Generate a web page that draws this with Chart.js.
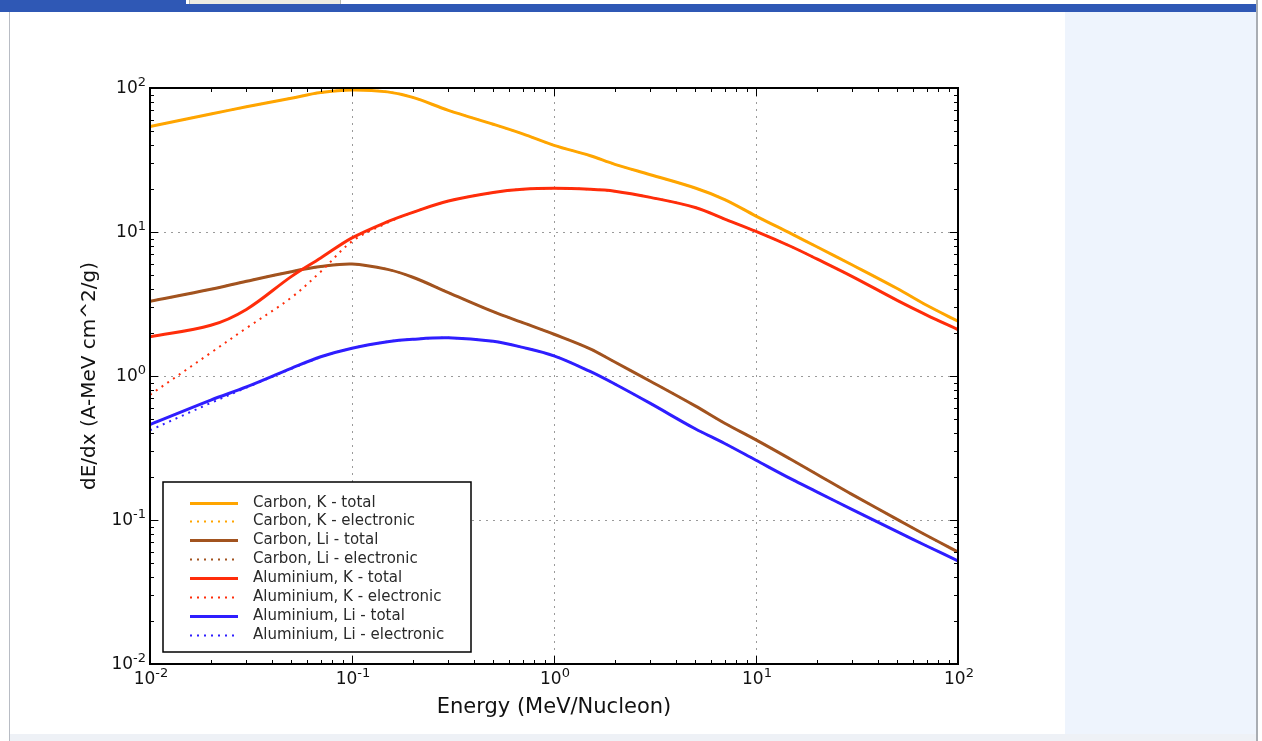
<!DOCTYPE html>
<html>
<head>
<meta charset="utf-8">
<script src="https://cdn.jsdelivr.net/npm/chart.js@4.4.1/dist/chart.umd.min.js"></script>
<style>
  body { margin: 0; background: #fff; width: 1262px; height: 741px; overflow: hidden; position: relative; font-family: "DejaVu Sans", sans-serif; }
  #tab1 { position: absolute; left: 0; top: 0; width: 186px; height: 5px; background: #2f58b5; }
  #tab2 { position: absolute; left: 189px; top: 0; width: 150px; height: 4px; background: #ecebe3; border: 1px solid #b9b9b0; border-top: none; }
  #bar { position: absolute; left: 0; top: 4px; width: 1258px; height: 8px; background: #2f58b5; }
  #leftline { position: absolute; left: 9px; top: 12px; width: 1px; height: 729px; background: #b8bcc4; }
  #rightpanel { position: absolute; left: 1065px; top: 12px; width: 191px; height: 729px; background: #eef4fd; }
  #rightline { position: absolute; left: 1256px; top: 0; width: 2px; height: 741px; background: #a9adb3; }
  #bottom { position: absolute; left: 10px; top: 734px; width: 1246px; height: 7px; background: #eef1f6; }
  #wrap { position: absolute; left: 0; top: 0; width: 1262px; height: 741px; }
</style>
</head>
<body>
<div id="tab1"></div><div id="tab2"></div><div id="bar"></div>
<div id="leftline"></div><div id="rightpanel"></div><div id="rightline"></div><div id="bottom"></div>
<div id="wrap"><canvas id="stoppingChart"></canvas></div>
<script>
// energia (MeV/Nucleon)
const energy = [0.01, 0.02, 0.03, 0.05, 0.07, 0.1, 0.15, 0.2, 0.3, 0.5, 0.7, 1, 1.5, 2, 3, 5, 7, 10, 15, 20, 30, 50, 70, 100];

// dE/dx
const carbonKTotal = [54, 66, 74, 85, 93, 97, 94, 86, 70, 56, 48, 40, 34, 29.5, 25, 20.2, 16.8, 12.9, 9.7, 7.9, 5.9, 4.05, 3.1, 2.4];
const carbonKElec  = [54, 66, 74, 85, 93, 97, 94, 86, 70, 56, 48, 40, 34, 29.5, 25, 20.2, 16.8, 12.9, 9.7, 7.9, 5.9, 4.05, 3.1, 2.4];
const carbonLiTotal = [3.3, 4.0, 4.55, 5.3, 5.75, 6.0, 5.5, 4.85, 3.8, 2.8, 2.35, 1.95, 1.55, 1.25, 0.92, 0.62, 0.47, 0.36, 0.262, 0.208, 0.15, 0.101, 0.078, 0.06];
const carbonLiElec  = [3.3, 4.0, 4.55, 5.3, 5.75, 6.0, 5.5, 4.85, 3.8, 2.8, 2.35, 1.95, 1.55, 1.25, 0.92, 0.62, 0.47, 0.36, 0.262, 0.208, 0.15, 0.101, 0.078, 0.06];
const alKTotal = [1.87, 2.25, 2.9, 4.9, 6.6, 9.1, 11.8, 13.7, 16.4, 18.8, 19.8, 20.1, 19.8, 19.2, 17.4, 14.8, 12.3, 10.1, 7.9, 6.5, 4.9, 3.35, 2.65, 2.1];
const alKElec  = [0.74, 1.45, 2.15, 3.5, 5.3, 8.6, 11.6, 13.7, 16.4, 18.8, 19.8, 20.1, 19.8, 19.2, 17.4, 14.8, 12.3, 10.1, 7.9, 6.5, 4.9, 3.35, 2.65, 2.1];
const alLiTotal = [0.46, 0.68, 0.84, 1.13, 1.36, 1.56, 1.73, 1.80, 1.84, 1.74, 1.58, 1.38, 1.08, 0.88, 0.645, 0.43, 0.34, 0.26, 0.192, 0.157, 0.118, 0.083, 0.066, 0.052];
const alLiElec  = [0.42, 0.65, 0.83, 1.12, 1.35, 1.56, 1.73, 1.80, 1.84, 1.74, 1.58, 1.38, 1.08, 0.88, 0.645, 0.43, 0.34, 0.26, 0.192, 0.157, 0.118, 0.083, 0.066, 0.052];

const tickValues = [0.01, 0.1, 1, 10, 100];
const tickBase = '10';
const tickExponents = ['-2', '-1', '0', '1', '2'];

const orange = '#ffa500';
const brown = '#a2531f';
const red = '#ff2d0a';
const blue = '#2f1eff';

function pts(vals) {
    return energy.map((e, i) => ({ x: e, y: vals[i] }));
}

function total(label, vals, color) {
    return { label: label, data: pts(vals), borderColor: color, borderWidth: 3, pointRadius: 0, tension: 0.35, fill: false };
}
function electronic(label, vals, color) {
    return { label: label, data: pts(vals), borderColor: color, borderWidth: 2, borderDash: [2, 5], pointRadius: 0, tension: 0.35, fill: false };
}

const datasets = [
    total('Carbon, K - total', carbonKTotal, orange),
    electronic('Carbon, K - electronic', carbonKElec, orange),
    total('Carbon, Li - total', carbonLiTotal, brown),
    electronic('Carbon, Li - electronic', carbonLiElec, brown),
    total('Aluminium, K - total', alKTotal, red),
    electronic('Aluminium, K - electronic', alKElec, red),
    total('Aluminium, Li - total', alLiTotal, blue),
    electronic('Aluminium, Li - electronic', alLiElec, blue)
];
// las ultimas series van encima, como en matplotlib
datasets.forEach((d, i) => { d.order = datasets.length - i; });

// etiqueta 10^n con exponente elevado
function drawPowerLabel(ctx, exp, x, y, align) {
    ctx.font = '17px "DejaVu Sans"';
    const wb = ctx.measureText(tickBase).width;
    ctx.font = '13px "DejaVu Sans"';
    const we = ctx.measureText(exp).width;
    const x0 = align === 'right' ? x - wb - we : x - (wb + we) / 2;
    ctx.font = '17px "DejaVu Sans"';
    ctx.fillText(tickBase, x0, y);
    ctx.font = '13px "DejaVu Sans"';
    ctx.fillText(exp, x0 + wb, y - 6);
}

// marco, rejilla punteada, ticks hacia dentro, etiquetas y leyenda
const framePlugin = {
    id: 'frame',
    beforeDatasetsDraw(chart) {
        const { ctx, chartArea: a, scales: { x, y } } = chart;
        ctx.save();
        ctx.strokeStyle = '#9a9a9a';
        ctx.lineWidth = 1;
        ctx.setLineDash([2, 5]);
        tickValues.slice(1, -1).forEach(v => {
            const px = Math.round(x.getPixelForValue(v)) + 0.5;
            ctx.beginPath(); ctx.moveTo(px, a.top); ctx.lineTo(px, a.bottom); ctx.stroke();
            const py = Math.round(y.getPixelForValue(v)) + 0.5;
            ctx.beginPath(); ctx.moveTo(a.left, py); ctx.lineTo(a.right, py); ctx.stroke();
        });
        ctx.restore();
    },
    afterDatasetsDraw(chart) {
        const { ctx, chartArea: a, scales: { x, y } } = chart;
        ctx.save();
        ctx.strokeStyle = '#000';
        ctx.lineWidth = 1;
        for (let d = 0; d < tickValues.length; d++) {
            for (let m = 1; m <= 9; m++) {
                const v = tickValues[d] * m;
                if (v > 100) break;
                const len = m === 1 ? 8 : 4;
                const px = Math.round(x.getPixelForValue(v)) + 0.5;
                ctx.beginPath();
                ctx.moveTo(px, a.bottom); ctx.lineTo(px, a.bottom - len);
                ctx.moveTo(px, a.top); ctx.lineTo(px, a.top + len);
                ctx.stroke();
                const py = Math.round(y.getPixelForValue(v)) + 0.5;
                ctx.beginPath();
                ctx.moveTo(a.left, py); ctx.lineTo(a.left + len, py);
                ctx.moveTo(a.right, py); ctx.lineTo(a.right - len, py);
                ctx.stroke();
            }
        }
        ctx.lineWidth = 2;
        ctx.strokeRect(a.left, a.top, a.right - a.left, a.bottom - a.top);

        ctx.fillStyle = '#111';
        ctx.textBaseline = 'middle';
        ctx.textAlign = 'left';
        tickValues.forEach((v, i) => {
            drawPowerLabel(ctx, tickExponents[i], x.getPixelForValue(v) + 1, a.bottom + 16, 'center');
            drawPowerLabel(ctx, tickExponents[i], a.left - 4, y.getPixelForValue(v) + 1, 'right');
        });
        ctx.restore();
    },
    afterDraw(chart) {
        const { ctx, chartArea: a } = chart;
        const bw = 308, bh = 170;
        const bx = a.left + 13, by = a.bottom - 12 - bh;
        ctx.save();
        ctx.fillStyle = '#fff';
        ctx.fillRect(bx, by, bw, bh);
        ctx.strokeStyle = '#000';
        ctx.lineWidth = 1.5;
        ctx.strokeRect(bx, by, bw, bh);
        ctx.font = '15px "DejaVu Sans"';
        ctx.textBaseline = 'middle';
        chart.data.datasets.forEach((ds, i) => {
            const cy = Math.round(by + 20.5 + i * 18.9) + 0.5;
            ctx.strokeStyle = ds.borderColor;
            ctx.lineWidth = ds.borderWidth;
            ctx.setLineDash(ds.borderDash || []);
            ctx.beginPath(); ctx.moveTo(bx + 27, cy); ctx.lineTo(bx + 75, cy); ctx.stroke();
            ctx.setLineDash([]);
            ctx.fillStyle = '#2a2a2a';
            ctx.fillText(ds.label, bx + 90, cy);
        });
        ctx.restore();
    }
};

const ctx = document.getElementById('stoppingChart').getContext('2d');
new Chart(ctx, {
    type: 'line',
    data: { datasets: datasets },
    options: {
        responsive: true,
        maintainAspectRatio: false,
        animation: false,
        layout: { padding: { left: 0, top: 88, right: 304, bottom: 17 } },
        plugins: {
            legend: { display: false },
            tooltip: { enabled: false }
        },
        scales: {
            x: {
                type: 'logarithmic',
                min: 0.01,
                max: 100,
                grid: { display: false, drawTicks: false },
                border: { display: false },
                afterBuildTicks: s => { s.ticks = tickValues.map(v => ({ value: v })); },
                afterFit: s => { s.height = 60; },
                ticks: { display: false },
                title: {
                    display: true,
                    text: 'Energy (MeV/Nucleon)',
                    color: '#111',
                    font: { size: 21, family: 'DejaVu Sans' },
                    padding: { top: 0, bottom: 4 }
                }
            },
            y: {
                type: 'logarithmic',
                min: 0.01,
                max: 100,
                grid: { display: false, drawTicks: false },
                border: { display: false },
                afterBuildTicks: s => { s.ticks = tickValues.map(v => ({ value: v })); },
                afterFit: s => { s.width = 150; },
                ticks: { display: false },
                title: {
                    display: true,
                    text: 'dE/dx (A-MeV cm^2/g)',
                    color: '#111',
                    font: { size: 20, family: 'DejaVu Sans' },
                    padding: { top: 78, bottom: 0 }
                }
            }
        }
    },
    plugins: [framePlugin]
});
</script>
</body>
</html>
